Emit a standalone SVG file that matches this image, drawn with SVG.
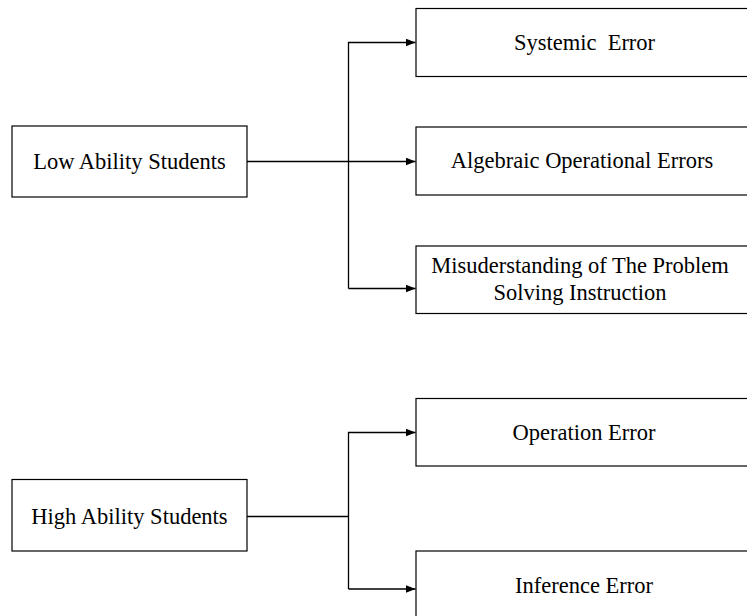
<svg xmlns="http://www.w3.org/2000/svg" width="747" height="616" viewBox="0 0 747 616">
<style>
.box{fill:#fff;stroke:#000;stroke-width:1.2}
.lbl{font-family:"Liberation Serif","Times New Roman",serif;font-size:22.5px;fill:#000;text-anchor:middle}
.con{fill:none;stroke:#000;stroke-width:1.3}
</style>
<defs>
<marker id="ah" markerWidth="10" markerHeight="8" refX="10" refY="4" orient="auto" markerUnits="userSpaceOnUse">
<path d="M0,0 L10,4 L0,8 Z" fill="#000"/>
</marker>
</defs>
<rect width="747" height="616" fill="#fff"/>
<g id="connectors">
<path class="con" d="M247,161.5 H415.5" marker-end="url(#ah)"/>
<path class="con" d="M348.5,288.5 V42.5 H415.5" marker-end="url(#ah)"/>
<path class="con" d="M348.5,288.5 H415.5" marker-end="url(#ah)"/>
<path class="con" d="M247,516.5 H348.5"/>
<path class="con" d="M348.5,589 V432.5 H415.5" marker-end="url(#ah)"/>
<path class="con" d="M348.5,589 H415.5" marker-end="url(#ah)"/>
</g>
<g id="low">
<rect class="box" x="12" y="126" width="235" height="71"/>
<text class="lbl" x="129.5" y="168.5">Low Ability Students</text>
</g>
<g id="systemic">
<rect class="box" x="416" y="8.5" width="340" height="68"/>
<text class="lbl" x="584.5" y="49.5" xml:space="preserve">Systemic  Error</text>
</g>
<g id="algebraic">
<rect class="box" x="416" y="127" width="340" height="68"/>
<text class="lbl" x="582" y="168">Algebraic Operational Errors</text>
</g>
<g id="misunderstanding">
<rect class="box" x="416" y="246" width="340" height="67.5"/>
<text class="lbl" x="580" y="272.5">Misuderstanding of The Problem</text>
<text class="lbl" x="580" y="299.5">Solving Instruction</text>
</g>
<g id="high">
<rect class="box" x="12" y="479.5" width="235" height="71.5"/>
<text class="lbl" x="129.5" y="523.5">High Ability Students</text>
</g>
<g id="operation">
<rect class="box" x="416" y="398.5" width="340" height="67.5"/>
<text class="lbl" x="584" y="440">Operation Error</text>
</g>
<g id="inference">
<rect class="box" x="416" y="551" width="340" height="80"/>
<text class="lbl" x="584" y="592.5">Inference Error</text>
</g>
</svg>
